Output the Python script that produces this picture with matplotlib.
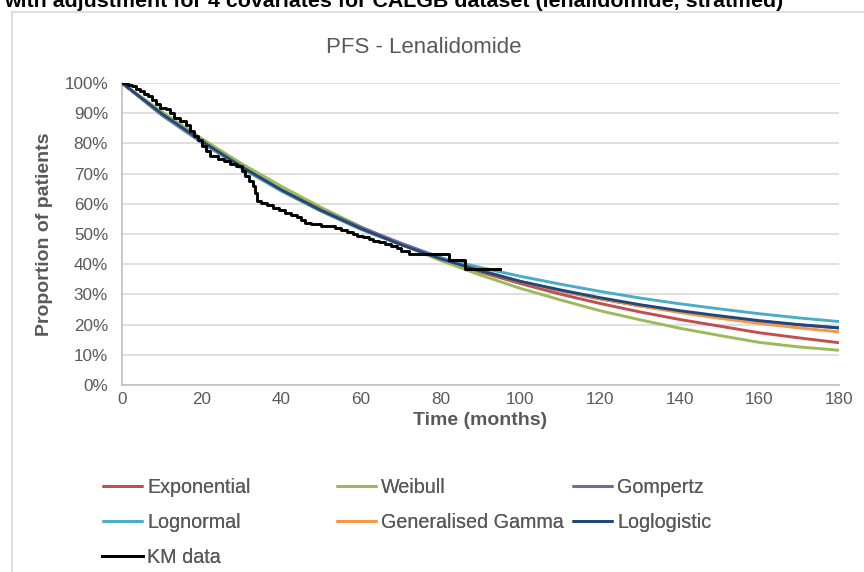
import matplotlib
matplotlib.use("Agg")
import matplotlib.pyplot as plt
from matplotlib.lines import Line2D
from matplotlib.ticker import FuncFormatter

plt.rcParams['font.family'] = ['Liberation Sans', 'DejaVu Sans']

# ---- data ----
model_times = [0, 10, 20, 30, 40, 50, 60, 70, 80, 90, 100, 110, 120, 130, 140, 150, 160, 170, 180]

exponential = [100, 89.7, 80.4, 72.1, 64.6, 57.9, 51.9, 46.6, 41.7, 37.4, 33.6, 30.1, 27.0, 24.2, 21.7, 19.5, 17.3, 15.6, 14.0]
weibull     = [100, 90.5, 81.6, 73.3, 65.8, 58.8, 52.4, 46.6, 41.2, 36.4, 32.0, 28.2, 24.6, 21.6, 18.8, 16.4, 14.1, 12.6, 11.5]
gompertz    = [100, 89.3, 80.3, 72.0, 64.6, 58.0, 52.2, 47.0, 42.2, 38.0, 34.3, 31.2, 28.5, 26.2, 24.3, 22.6, 21.1, 19.9, 18.9]
lognormal   = [100, 89.5, 80.5, 71.8, 64.2, 57.5, 51.5, 46.5, 42.0, 38.9, 36.0, 33.4, 31.0, 28.8, 26.9, 25.2, 23.6, 22.2, 21.0]
gengamma    = [100, 89.8, 80.8, 72.3, 64.6, 57.8, 51.8, 46.5, 41.8, 37.8, 34.2, 31.3, 28.6, 26.2, 24.0, 22.1, 20.4, 18.9, 17.6]
loglogistic = [100, 89.8, 80.8, 72.3, 64.6, 57.8, 51.8, 46.5, 41.8, 37.8, 34.3, 31.5, 28.9, 26.6, 24.6, 22.9, 21.3, 20.0, 18.9]

km_times = [0, 1.5, 2.5, 3.5, 4.5, 5.5, 6.5, 7.5, 8.5, 9.5, 11, 12, 13, 14.5, 16, 17, 18, 19,
            20, 21, 22, 24, 25.5, 27, 28.5, 30, 31, 32, 32.8, 33.3, 33.8, 35, 36.5, 38, 39.5,
            41, 42.5, 44, 45, 46, 47.5, 50, 52, 53.5, 55, 56.5, 58, 59, 60.5, 62, 63, 64.5,
            66, 67.5, 69, 70, 72, 82, 86, 95]
km_surv = [100, 99.4, 99, 98, 97.4, 96.5, 95.7, 94.5, 93, 91.8, 91.3, 90, 88.5, 87.4, 86, 84, 82.5, 81,
           79.1, 77.5, 75.8, 75, 74.2, 73.3, 72.5, 70.9, 69.2, 67.5, 66, 63.5, 61, 60.2, 59.5, 58.5, 57.8,
           57, 56.3, 55.5, 54.5, 53.8, 53.2, 52.8, 52.5, 52, 51.2, 50.5, 49.9, 49.3, 49, 48.5, 47.7, 47.2,
           46.6, 46, 45.4, 44.4, 43.5, 41.5, 38.3, 38.3]

series_names = ["Exponential", "Weibull", "Gompertz", "Lognormal", "Generalised Gamma", "Loglogistic"]
series_vals = [exponential, weibull, gompertz, lognormal, gengamma, loglogistic]
series_colors = ["#C0504D", "#9BBB59", "#8064A2", "#4BACC6", "#F79646", "#1F497D"]

x_ticks = [0, 20, 40, 60, 80, 100, 120, 140, 160, 180]
y_ticks = [0, 10, 20, 30, 40, 50, 60, 70, 80, 90, 100]

title = "PFS - Lenalidomide"
header = "with adjustment for 4 covariates for CALGB dataset (lenalidomide, stratified)"

# ---- figure ----
W, H = 864, 572
fig = plt.figure(figsize=(W / 100, H / 100), dpi=100)
fig.patch.set_facecolor("white")

ax = fig.add_axes([122 / W, 1 - 385 / H, (839 - 122) / W, (385 - 83) / H])

handles = {}
for name, vals, col in zip(series_names, series_vals, series_colors):
    ln, = ax.plot(model_times, [v / 100 for v in vals], color=col, lw=2.1,
                  solid_capstyle="butt", label=name, zorder=3)
    handles[name] = ln
km_line, = ax.plot(km_times, [v / 100 for v in km_surv], color="black", lw=2.1,
                   drawstyle="steps-post", label="KM data", zorder=4)
handles["KM data"] = km_line

ax.set_xlim(0, 180)
ax.set_ylim(0, 1.0)
ax.set_xticks(x_ticks)
ax.set_yticks([v / 100 for v in y_ticks])
ax.yaxis.set_major_formatter(FuncFormatter(lambda v, p: f"{v * 100:.0f}%"))
ax.tick_params(length=0, labelsize=12.3, labelcolor="#595959")
ax.tick_params(axis="y", pad=10)
ax.tick_params(axis="x", pad=5)
ax.grid(axis="y", color="#D9D9D9", lw=1.2)
ax.set_axisbelow(True)
for s in ["top", "right"]:
    ax.spines[s].set_visible(False)
for s in ["left", "bottom"]:
    ax.spines[s].set_color("#BFBFBF")
    ax.spines[s].set_linewidth(1.2)

ax.set_xlabel("Time (months)", fontsize=14, fontweight="bold", color="#595959")
ax.set_ylabel("Proportion of patients", fontsize=14, fontweight="bold", color="#595959")
ax.xaxis.set_label_coords(0.5, -(412 - 385) / 302)
ax.yaxis.set_label_coords(-(122 - 53) / 717, 0.5)

fig.text(424 / W, 1 - 53 / H, title, ha="center", va="baseline", fontsize=16, color="#595959")
fig.text(4 / W, 1 - 7 / H, header, ha="left", va="baseline", fontsize=15.4, fontweight="bold", color="black")

# chart frame (left and top borders)
fig.add_artist(Line2D([12 / W, 12 / W], [0, 1 - 12 / H], color="#D9D9D9", lw=1.2, transform=fig.transFigure))
fig.add_artist(Line2D([12 / W, 1], [1 - 12 / H, 1 - 12 / H], color="#D9D9D9", lw=1.2, transform=fig.transFigure))

# legend: three columns
columns = [["Exponential", "Lognormal", "KM data"],
           ["Weibull", "Generalised Gamma"],
           ["Gompertz", "Loglogistic"]]
col_x = [102, 336, 572]
for names, cx in zip(columns, col_x):
    leg = fig.legend([handles[n] for n in names], names, loc="upper left",
                     bbox_to_anchor=(cx / W, 1 - 478 / H), frameon=False,
                     fontsize=14.2, handlelength=2.1, handletextpad=0.2,
                     labelspacing=0.8, borderaxespad=0, borderpad=0)
    for t in leg.get_texts():
        t.set_color("#595959")
    fig.add_artist(leg)

fig.savefig("out.png", dpi=100)
